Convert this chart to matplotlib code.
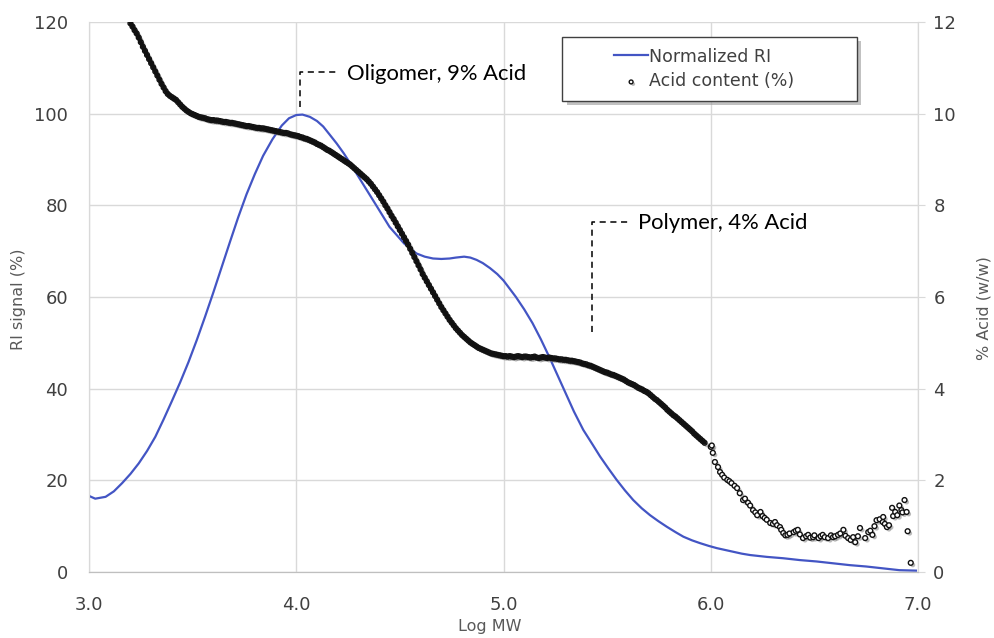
import numpy as np
import matplotlib
matplotlib.use("Agg")
import matplotlib.pyplot as plt
import matplotlib.patheffects as pe
from matplotlib.patches import Rectangle

# Normalized RI trace (left axis, %)
ri_x = [3.00, 3.03, 3.08, 3.12, 3.16, 3.20, 3.24, 3.28, 3.32, 3.36, 3.40, 3.44, 3.48,
        3.52, 3.56, 3.60, 3.64, 3.68, 3.72, 3.76, 3.80, 3.84, 3.885, 3.93, 3.965, 4.00,
        4.03, 4.066, 4.10, 4.13, 4.16, 4.195, 4.23, 4.26, 4.32, 4.39, 4.45, 4.52, 4.58,
        4.62, 4.66, 4.70, 4.74, 4.77, 4.81, 4.84, 4.87, 4.90, 4.935, 4.97, 5.00, 5.03,
        5.06, 5.10, 5.14, 5.18, 5.22, 5.26, 5.30, 5.34, 5.385, 5.43, 5.466, 5.506, 5.546,
        5.586, 5.626, 5.667, 5.707, 5.747, 5.787, 5.83, 5.868, 5.91, 5.948, 5.99, 6.03,
        6.07, 6.11, 6.15, 6.19, 6.27, 6.35, 6.43, 6.51, 6.59, 6.67, 6.75, 6.83, 6.91, 6.99]
ri_y = [16.6, 16.0, 16.4, 17.6, 19.4, 21.4, 23.7, 26.4, 29.5, 33.3, 37.3, 41.4, 45.8,
        50.6, 55.7, 61.0, 66.5, 72.0, 77.4, 82.4, 86.8, 90.8, 94.4, 97.4, 99.0, 99.7,
        99.8, 99.3, 98.4, 97.2, 95.5, 93.5, 91.3, 89.2, 84.8, 79.7, 75.3, 71.7, 69.5,
        68.8, 68.4, 68.3, 68.4, 68.6, 68.8, 68.6, 68.1, 67.4, 66.3, 65.0, 63.6, 61.8,
        60.0, 57.3, 54.3, 50.8, 47.0, 43.0, 39.0, 35.0, 31.0, 27.8, 25.2, 22.6, 20.1,
        17.8, 15.7, 13.9, 12.4, 11.1, 9.9, 8.7, 7.7, 6.9, 6.3, 5.7, 5.2,
        4.8, 4.4, 4.0, 3.7, 3.3, 3.0, 2.6, 2.3, 1.9, 1.5, 1.2, 0.8, 0.4, 0.3]

# Acid content (right axis, %), dense part sampled every 0.01 log MW from 3.20 to 5.97
acid_dense_x = np.round(np.arange(3.20, 5.975, 0.01), 2)
acid_dense_y = [
    11.97, 11.90, 11.82, 11.75, 11.66, 11.56, 11.46, 11.37, 11.28, 11.19,
    11.10, 11.01, 10.92, 10.83, 10.74, 10.65, 10.57, 10.49, 10.43, 10.39,
    10.36, 10.33, 10.30, 10.25, 10.20, 10.15, 10.11, 10.07, 10.04, 10.01,
    9.99, 9.97, 9.95, 9.93, 9.92, 9.91, 9.90, 9.88, 9.87, 9.86,
    9.86, 9.85, 9.85, 9.84, 9.83, 9.82, 9.82, 9.81, 9.80, 9.80,
    9.79, 9.78, 9.77, 9.76, 9.75, 9.74, 9.73, 9.73, 9.72, 9.71,
    9.70, 9.69, 9.69, 9.68, 9.68, 9.67, 9.66, 9.65, 9.64, 9.63,
    9.62, 9.61, 9.60, 9.59, 9.58, 9.58, 9.57, 9.55, 9.54, 9.53,
    9.52, 9.51, 9.49, 9.48, 9.46, 9.45, 9.43, 9.41, 9.39, 9.37,
    9.34, 9.32, 9.30, 9.27, 9.24, 9.21, 9.19, 9.16, 9.13, 9.10,
    9.07, 9.04, 9.01, 8.98, 8.95, 8.92, 8.89, 8.85, 8.81, 8.77,
    8.73, 8.69, 8.65, 8.61, 8.57, 8.52, 8.47, 8.41, 8.35, 8.29,
    8.22, 8.15, 8.08, 8.00, 7.93, 7.85, 7.77, 7.70, 7.62, 7.54,
    7.46, 7.38, 7.30, 7.22, 7.14, 7.05, 6.96, 6.87, 6.78, 6.69,
    6.60, 6.50, 6.42, 6.34, 6.26, 6.18, 6.10, 6.02, 5.94, 5.86,
    5.78, 5.71, 5.64, 5.57, 5.50, 5.44, 5.38, 5.32, 5.27, 5.22,
    5.17, 5.13, 5.09, 5.05, 5.01, 4.98, 4.95, 4.92, 4.89, 4.87,
    4.85, 4.83, 4.81, 4.79, 4.77, 4.76, 4.75, 4.74, 4.73, 4.72,
    4.71, 4.71, 4.70, 4.71, 4.70, 4.69, 4.70, 4.71, 4.70, 4.69,
    4.70, 4.70, 4.69, 4.68, 4.69, 4.70, 4.68, 4.67, 4.68, 4.69,
    4.68, 4.67, 4.68, 4.67, 4.66, 4.66, 4.65, 4.64, 4.64, 4.63,
    4.63, 4.62, 4.61, 4.61, 4.60, 4.59, 4.58, 4.57, 4.55, 4.54,
    4.53, 4.51, 4.50, 4.48, 4.46, 4.44, 4.42, 4.40, 4.38, 4.36,
    4.35, 4.33, 4.31, 4.30, 4.28, 4.26, 4.24, 4.22, 4.20, 4.17,
    4.14, 4.12, 4.10, 4.08, 4.05, 4.02, 4.00, 3.98, 3.95, 3.93,
    3.90, 3.86, 3.82, 3.78, 3.75, 3.71, 3.67, 3.63, 3.59, 3.54,
    3.50, 3.46, 3.42, 3.39, 3.35, 3.31, 3.27, 3.23, 3.19, 3.15,
    3.11, 3.07, 3.02, 2.98, 2.94, 2.90, 2.86, 2.82]

# sparse, noisy tail of the acid data
acid_tail_x = [6.00, 6.005, 6.01, 6.02, 6.035, 6.045, 6.055, 6.065, 6.08, 6.09, 6.10,
               6.115, 6.127, 6.14, 6.156, 6.165, 6.18, 6.19, 6.204, 6.215, 6.224, 6.24,
               6.25, 6.26, 6.27, 6.287, 6.30, 6.31, 6.32, 6.334, 6.34, 6.35, 6.36, 6.37,
               6.38, 6.40, 6.41, 6.42, 6.43, 6.445, 6.46, 6.47, 6.48, 6.494, 6.50, 6.52,
               6.53, 6.54, 6.55, 6.566, 6.58, 6.59, 6.60, 6.614, 6.625, 6.64, 6.65, 6.663,
               6.675, 6.687, 6.697, 6.71, 6.72, 6.745, 6.76, 6.77, 6.78, 6.79, 6.80, 6.815,
               6.83, 6.832, 6.84, 6.85, 6.86, 6.875, 6.88, 6.89, 6.90, 6.91, 6.92, 6.925,
               6.935, 6.945, 6.95, 6.965]
acid_tail_y = [2.73, 2.76, 2.60, 2.40, 2.29, 2.18, 2.12, 2.06, 2.01, 1.98, 1.94,
               1.88, 1.83, 1.72, 1.57, 1.60, 1.51, 1.45, 1.35, 1.30, 1.24, 1.31,
               1.22, 1.18, 1.14, 1.07, 1.05, 1.09, 1.02, 0.98, 0.92, 0.85, 0.80, 0.81,
               0.84, 0.87, 0.90, 0.92, 0.82, 0.74, 0.78, 0.81, 0.75, 0.76, 0.80, 0.74,
               0.78, 0.81, 0.76, 0.74, 0.80, 0.76, 0.78, 0.81, 0.84, 0.92, 0.79, 0.74,
               0.70, 0.76, 0.65, 0.78, 0.96, 0.74, 0.87, 0.90, 0.81, 1.00, 1.13, 1.15,
               1.09, 1.20, 1.05, 0.98, 1.02, 1.40, 1.22, 1.31, 1.24, 1.45, 1.35, 1.30,
               1.57, 1.31, 0.89, 0.20]

acid_x = np.concatenate([acid_dense_x, acid_tail_x])
acid_y = np.concatenate([acid_dense_y, acid_tail_y])

blue = "#4355C4"
grid_col = "#d9d9d9"
tick_col = "#404040"
label_col = "#595959"

fig = plt.figure(figsize=(9.94, 6.38), dpi=100)
ax = fig.add_subplot(111)
fig.subplots_adjust(left=89 / 994, right=918 / 994, bottom=66 / 638, top=616 / 638)
ax2 = ax.twinx()

# RI curve on the left axis
ri_line, = ax.plot(ri_x, ri_y, color=blue, lw=1.6, label="Normalized RI", zorder=3)

# acid content on the right axis (open circles, overlapping into a band where dense)
shadow = [pe.SimplePatchShadow(offset=(1.5, -1.5), shadow_rgbFace="#777777", alpha=0.5),
          pe.Normal()]
acid_pts = ax2.scatter(acid_x, acid_y, s=12, facecolor="white", edgecolor="#111111",
                       linewidths=1.0, label="Acid content (%)", zorder=4,
                       path_effects=shadow)
ax2.plot(acid_dense_x, acid_dense_y, color="#111111", lw=3.0, zorder=5,
         solid_capstyle="round")

# axes ranges and ticks
ax.set_xlim(3.0, 7.0)
ax.set_ylim(0, 120)
ax2.set_ylim(0, 12)
ax.set_xticks([3, 4, 5, 6, 7])
ax.set_xticklabels(["3.0", "4.0", "5.0", "6.0", "7.0"])
ax.set_yticks(range(0, 121, 20))
ax2.set_yticks(range(0, 13, 2))

ax.grid(True, color=grid_col, lw=1)
ax.set_axisbelow(True)
ax.tick_params(axis="both", length=0, colors=tick_col, labelsize=13)
ax.tick_params(axis="y", pad=15)
ax.tick_params(axis="x", pad=17)
ax2.tick_params(axis="y", length=5, color=grid_col, labelcolor=tick_col,
                labelsize=13, pad=6)

for a in (ax, ax2):
    a.spines["top"].set_visible(False)
    a.spines["left"].set_color(grid_col)
    a.spines["right"].set_color(grid_col)
    a.spines["bottom"].set_color("#bfbfbf")

ax.set_xlabel("Log MW", fontsize=11.5, color=label_col)
ax.set_ylabel("RI signal (%)", fontsize=11.5, color=label_col)
ax2.set_ylabel("% Acid (w/w)", fontsize=11.5, color=label_col, rotation=90)
ax.xaxis.set_label_coords((490 - 89) / 829, -0.086)
ax.yaxis.set_label_coords(-0.076, 0.495)
ax2.yaxis.set_label_coords(1.071, 0.48)

# dashed call-outs
dash = (0, (4, 3))
ax.plot([4.02, 4.02, 4.19], [101.5, 109.1, 109.1], color="black", lw=1.1,
        linestyle=dash, zorder=6)
ax.plot([5.427, 5.427, 5.60], [52.4, 76.4, 76.4], color="black", lw=1.1,
        linestyle=dash, zorder=6)
ax.text(4.245, 108.6, "Oligomer, 9% Acid", fontsize=15.8, family="Lato",
        va="center", ha="left", color="black")
ax.text(5.65, 76.2, "Polymer, 4% Acid", fontsize=15.8, family="Lato",
        va="center", ha="left", color="black")

# legend box with shadow
box = Rectangle((0.571, 0.856), 0.355, 0.117, transform=ax2.transAxes,
                facecolor="white", edgecolor="#404040", lw=1.0, zorder=7,
                path_effects=[pe.SimplePatchShadow(offset=(3, -3), shadow_rgbFace="#999999",
                                                   alpha=0.6), pe.Normal()])
ax2.add_patch(box)
leg = ax2.legend([ri_line, acid_pts], ["Normalized RI", "Acid content (%)"],
                 loc="center", bbox_to_anchor=(0.742, 0.9145), frameon=False,
                 fontsize=12.5, handlelength=2.0, handletextpad=0.05,
                 labelspacing=0.4, scatterpoints=1, markerscale=0.8)
leg.set_zorder(8)
for t in leg.get_texts():
    t.set_color(tick_col)

fig.savefig("out.png", dpi=100)
